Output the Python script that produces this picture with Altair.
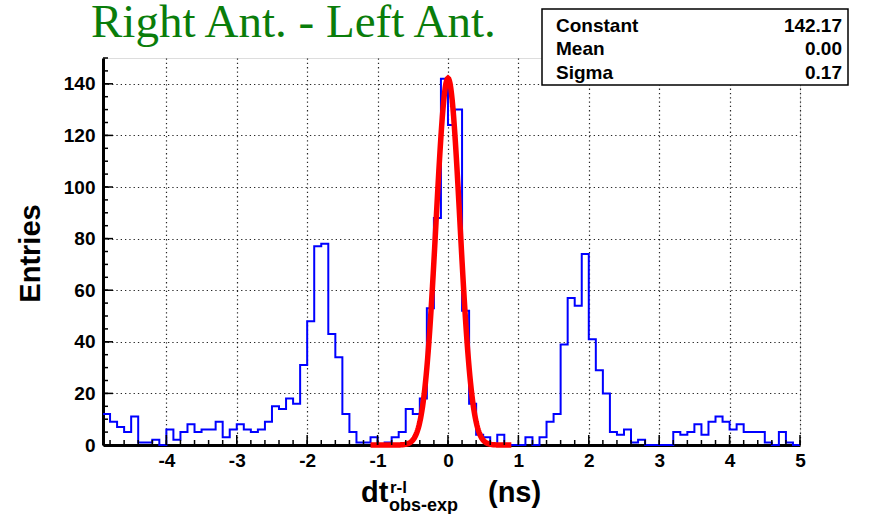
import altair as alt
import pandas as pd

# ---------------- data ----------------
bin_start = -4.9
bin_width = 0.1
counts = [
    12, 9, 7, 5, 11, 1, 1, 2, 0, 6,          # -4.9 .. -4.0
    2, 5, 8, 5, 6, 6, 9, 3, 6, 8,            # -3.9 .. -3.0
    6, 5, 6, 9, 15, 14, 18, 16, 31, 48,      # -2.9 .. -2.0
    77, 78, 43, 34, 12, 5, 1, 1, 3, 0,       # -1.9 .. -1.0
    1, 3, 5, 14, 12, 18, 53, 88, 142,        # -0.9 .. -0.1
    124, 130, 52, 16, 4, 3, 0, 4, 0, 0,      # 0.0 .. 0.9
    0, 3, 0, 3, 9, 12, 39, 57, 54, 74,       # 1.0 .. 1.9
    41, 29, 20, 5, 4, 6, 1, 2, 0, 0,         # 2.0 .. 2.9
    0, 0, 5, 4, 5, 8, 4, 9, 11, 9,           # 3.0 .. 3.9
    6, 8, 5, 5, 5, 1, 0, 5, 1, 0,            # 4.0 .. 4.9
]
x_max = 5.0

fit_constant = 142.17
fit_mean = 0.00
fit_sigma = 0.17
fit_range = [-1.1, 0.9]

x_ticks = [-4, -3, -2, -1, 0, 1, 2, 3, 4, 5]
y_ticks = [0, 20, 40, 60, 80, 100, 120, 140]
x_minor = [round(-4.8 + 0.2 * i, 1) for i in range(50)]
y_minor = [5 * i for i in range(31)]

stat_names = ["Constant", "Mean", "Sigma"]
stat_values = [f"{fit_constant:.2f}", f"{fit_mean:.2f}", f"{fit_sigma:.2f}"]

# ---------------- tables ----------------
edges = [round(bin_start + i * bin_width, 2) for i in range(len(counts))]
hist_df = pd.DataFrame({"x": edges + [x_max], "count": counts + [counts[-1]]})

W, H = 697, 387
FONT = "Liberation Sans"
HYPHEN_LABEL = "datum.value < 0 ? '-' + abs(datum.value) : '' + datum.value"

xscale = alt.Scale(domain=[bin_start, x_max], nice=False, zero=False)
yscale = alt.Scale(domain=[0, 150], nice=False, zero=True)

hist = alt.Chart(hist_df).mark_line(
    interpolate="step-after", color="#0000ff", strokeWidth=2
).encode(
    x=alt.X("x:Q", scale=xscale, axis=alt.Axis(
        values=x_ticks, labelExpr=HYPHEN_LABEL, title=None, grid=True, ticks=False, labelPadding=6,
        labelFontSize=19, labelFont=FONT, labelFontWeight="bold", labelColor="black",
        domainColor="black", domainWidth=3,
        gridColor="black", gridDash=[1.3, 3], gridWidth=1.2, gridOpacity=0.85,
        labelFlush=False)),
    y=alt.Y("count:Q", scale=yscale, axis=alt.Axis(
        values=y_ticks, format="d", title="Entries", grid=True, ticks=False, labelPadding=8,
        labelFontSize=19, labelFont=FONT, labelFontWeight="bold", labelColor="black",
        domainColor="black", domainWidth=3,
        gridColor="black", gridDash=[1.3, 3], gridWidth=1.2, gridOpacity=0.85,
        titleFont=FONT, titleFontSize=29, titleFontWeight="bold", titleColor="black",
        titleAngle=270, titleAlign="center", titleBaseline="middle",
        titleX=-73, titleY=195, labelFlush=False)),
)

gauss = alt.Chart(alt.sequence(fit_range[0], fit_range[1] + 0.001, 0.01, as_="x")).transform_calculate(
    g=f"{fit_constant} * exp(-0.5 * pow((datum.x - {fit_mean}) / {fit_sigma}, 2))"
).mark_line(color="#ff0000", strokeWidth=5.5).encode(
    x=alt.X("x:Q", scale=xscale), y=alt.Y("g:Q", scale=yscale)
)

def xticks(vals, length):
    return alt.Chart(pd.DataFrame({"t": vals})).mark_rule(color="black", strokeWidth=1.5).encode(
        x=alt.X("t:Q", scale=xscale), y=alt.value(H), y2=alt.value(H - length))

def yticks(vals, length):
    return alt.Chart(pd.DataFrame({"t": vals})).mark_rule(color="black", strokeWidth=1.5).encode(
        y=alt.Y("t:Q", scale=yscale), x=alt.value(0), x2=alt.value(length))

def label(txt, x, y, size, align="left", font=FONT, weight="bold", color="black"):
    return alt.Chart(pd.DataFrame({"t": [txt]})).mark_text(
        align=align, baseline="alphabetic", font=font, fontSize=size, fontWeight=weight, color=color
    ).encode(x=alt.value(x), y=alt.value(y), text="t:N")

# stats box
box = alt.Chart(pd.DataFrame({"a": [0]})).mark_rect(
    fill="white", stroke="black", strokeWidth=1.5
).encode(x=alt.value(439), x2=alt.value(745), y=alt.value(-49), y2=alt.value(27))

row_y = [-26.5, -3, 20.5]
stat_layers = []
for name, val, ry in zip(stat_names, stat_values, row_y):
    stat_layers.append(label(name, 453, ry, 19))
    stat_layers.append(label(val, 739, ry, 19, align="right"))

# title
title = label("Right Ant. - Left Ant.", -12, -21, 47, font="Liberation Serif",
              weight="normal", color="#0a7d0a")

# x axis title with sub/superscripts
xt_main = label("dt", 258, 444, 29)
xt_sup = label("r-l", 287, 435, 17)
xt_sub = label("obs-exp", 286, 453, 18)
xt_unit = label("(ns)", 385, 444, 29)

chart = alt.layer(
    hist, gauss,
    xticks(x_ticks, 10), xticks(x_minor, 5), yticks(y_ticks, 10), yticks(y_minor, 5),
    box, *stat_layers, title,
    xt_main, xt_sup, xt_sub, xt_unit,
).properties(
    width=W, height=H,
    padding={"left": 103, "top": 58, "right": 82, "bottom": 69},
    autosize=alt.AutoSizeParams(type="none"),
).configure_view(stroke="black", strokeWidth=2.5).configure(background="white")

chart.save("out.html", embed_options={"renderer": "svg", "actions": False})
